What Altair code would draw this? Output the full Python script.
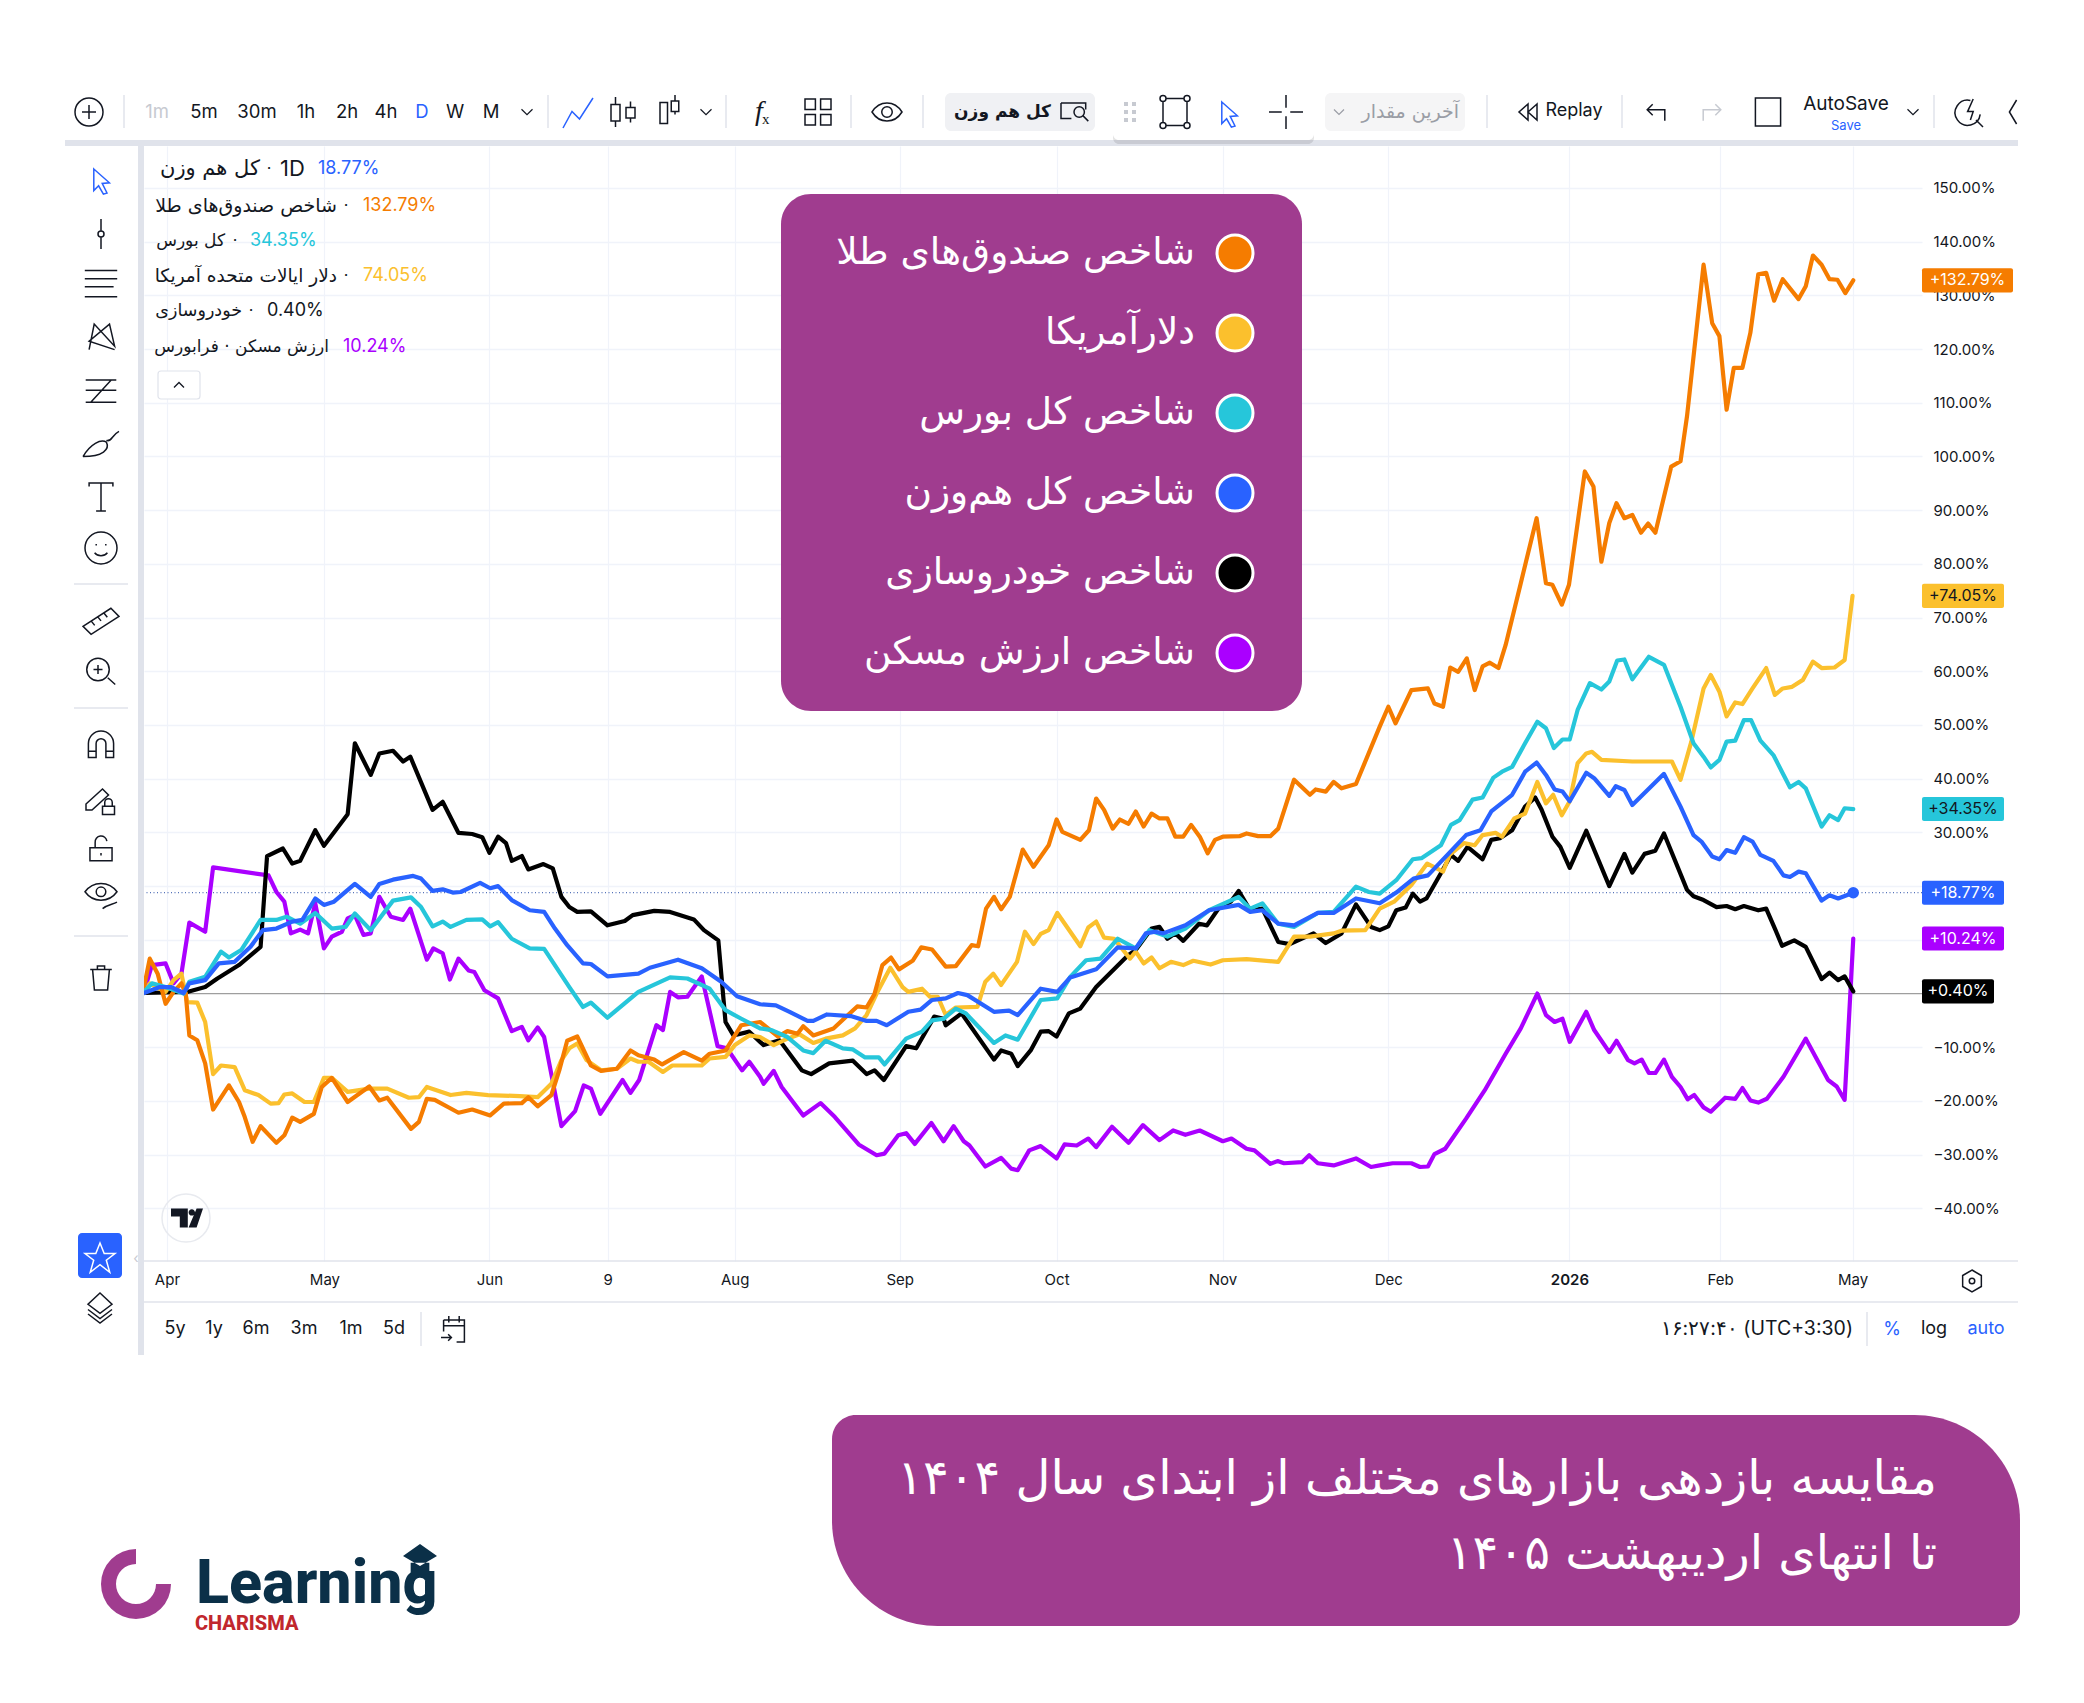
import altair as alt
import pandas as pd

# bar index on the time axis, % return since start
gold_bar = [0,0.8,1.9,3,4.1,5.2,5.8,6.3,7.4,8.5,9.6,11.8,13.2,14,15.1,16.2,18.4,19.5,20.6,21.7,23.6,24.7,26.1,28.3,31.3,32.7,33.8,37.1,38.2,39.3,40.4,43.7,45.6,48.1,50,52.5,53.4,54.7,56.6,57.7,58.8,60.2,62.1,63.5,65.7,67.6,68.7,70.9,72,75,77.5,78.6,80.8,83,85.6,88.1,89.4,90.8,91.6,93,95.8,99.1,100.4,101.5,102.6,103.8,104.9,106.8,108,109.5,111.4,112.8,115,115.9,117,118.1,119.1,120.3,122.1,123.6,125.7,126.8,127.6,130.1,131.3,132.3,133.4,134.6,135.6,136.8,137.8,138.9,140,141.1,142.2,143.3,144.4,145.5,146.7,147.8,148.8,149.9,152.2,153.2,154.8,156.5,157.6,159.8,162,162.8,164.2,165.3,166.4,168.4,171.7,172.9,173.9,176.1,178.4,179.3,180.5,181.5,182.6,183.8,184.9,186,187,188.2,189.2,191.3,193.5,194.8,195.7,197,198,200.2,201.4,202.5,203.6,204.6,205.7,206.8,208,209,210,212.2,213.5,214.4,216.7,217.9,218.9,219.9,220.9,222.1,223.2,224.3,225.4,226.5,227.7,229.9,230.9,231.9,233.1,234.2,235.3,236.4,237.5]
gold_pct = [1.2,6.5,3.7,-1.9,0.3,1.9,0,-7.8,-8.7,-13,-21.6,-17.1,-20.2,-23,-27.6,-24.7,-27.8,-26.4,-23.1,-23.9,-22.4,-17.4,-15.7,-20.2,-17.3,-19.9,-19.4,-25.2,-23.9,-19.6,-19.8,-22.2,-21.6,-22.7,-20.5,-20.4,-19.3,-21,-18.9,-14.3,-8.8,-8,-13.4,-14.4,-14,-10.6,-11.5,-12.3,-13.2,-10.9,-12.5,-11.2,-10.6,-5.9,-5.3,-8,-7,-7.5,-6.1,-7.8,-6.5,-2.4,-2.6,-0.1,5.3,6.7,4.5,6.1,8.6,8.2,5,5.1,9,8.8,15.8,18,15.7,18,26.8,23.6,27.6,32.4,30.1,28.6,30.4,36.3,34.2,30.7,32.4,31.6,33.9,31.1,33.5,32.6,32.6,29.2,29.2,31.4,29.2,26.1,28.6,29.2,29.3,29.8,29.3,29.3,30.7,39.8,37,38,37.6,39.4,38.2,39,49.7,53.4,50.3,56.5,56.8,54,53.4,60.7,59.9,62.4,56.5,60.9,61.6,60.6,64.9,76.4,88.5,76.4,76.1,72.4,76.1,97.2,94.4,80.4,87.6,91.3,88.5,89.1,85.8,87.5,85.8,98.1,99.1,107.5,135.7,124.8,122.4,108.7,116.5,116.5,123,133.9,134.2,129,133,129.3,131.7,137.4,135.7,133,132.9,130.4,132.79]

usd_bar = [0,0.8,3,4.1,5.2,6,7.4,8.5,9.6,10.7,12.6,14,15.9,17.6,18.7,19.5,20.6,22.3,23.6,25,26.1,28.3,31.3,33.8,36.8,38.2,39.3,42.6,44.8,47.8,52.2,54.7,56.6,58,59.1,60.2,61.5,63.5,65.7,67.6,68.7,70.1,72.1,73.4,77.5,78.6,80.8,82.1,84.1,85.6,87.5,89.4,91.1,93,94.7,97.1,98.8,100.4,101.8,103.7,105.4,106.2,108.1,109.2,110.3,111.4,112.8,115.8,116.9,118,119.1,121.3,122.4,123.6,124.6,125.7,126.9,130.1,131.2,132.3,133.4,134.8,137,137.8,138.9,140,141.1,142.7,144.4,145.8,148.2,149.9,153.2,157.6,159.8,162,165.3,166.4,169.7,171.7,173.7,176.1,178.3,180.5,181.4,183.4,184.9,186,187.8,188.7,190.4,191.9,193.6,194.8,195.8,197,198.1,199.2,200.4,201.2,202.5,206.8,212.3,213.5,215,216.7,217.7,218.9,219.9,221.1,222.1,223.5,225.4,226.6,227.7,229,230.5,231.9,233.1,234.9,236.3,237.4]
usd_pct = [0.1,1.9,0.3,2.5,3.7,-1.6,-1.7,-5.3,-15,-13.4,-13.7,-18,-18.9,-20.5,-20.4,-18.8,-18.6,-20.2,-20.2,-15.7,-15.7,-18.3,-17.7,-17.7,-19.4,-19.3,-17.4,-18.9,-18.5,-18.9,-19.1,-19.3,-16.8,-12.4,-10.2,-9.3,-12.4,-14.3,-14,-12.1,-12.7,-12.7,-14.6,-13.4,-13.4,-12.1,-11.8,-9.6,-7.8,-8.1,-9.6,-8.4,-7.6,-9.2,-8.4,-7.8,-6.5,-4,0,4.8,1.2,0.3,0.9,-0.6,-0.6,-4,-2.6,-2.5,2.2,3.7,1.6,5.9,11.5,9.2,11.1,11.8,15,8.8,12.3,13.4,10.4,10.2,6.5,7.8,5.6,6.7,4.7,5.9,5.3,6.1,5.4,6.2,6.4,5.9,10.6,10.6,11.2,11.7,11.8,15.8,17.1,20.2,24.2,22.7,25.8,28,27.6,29.5,29.9,29.2,32.6,33.5,39.4,35.4,37,33.2,35.8,42.9,44.7,45,43.5,43.2,43.2,39.8,46.9,56.8,59.3,56.2,51.6,54.2,53.9,56.8,60.6,55.6,56.8,57.1,58.4,61.8,60.6,60.7,62.1,74.05]

tedpix_bar = [0,1.1,3,5.5,6.3,8.5,10.7,11.8,13.5,16.2,18.4,19.8,21.7,23.8,26.1,28,29.3,31.5,34.6,37.1,38.5,40.1,41.5,42.6,44.8,47,48.1,49.2,51.1,53.6,55.6,59.1,61,62.1,64.4,68.7,73.1,75.5,78.6,80.8,83,85.6,87.2,89.4,91.6,93,94.7,97.1,98.5,100.2,102.1,102.9,105.9,108.1,109.5,111.1,112.8,114.2,118.1,119.7,121.4,124.6,126.9,128.7,130.9,132.9,135.3,137.8,139.7,142.2,144.7,148,152.1,153.7,155.4,157.6,159.8,163.1,165.3,168.4,170.2,171.7,174,176.3,177.5,180.2,181.6,182.8,184.6,186,187.5,188.7,190.1,191.9,193.6,194.8,195.9,197.1,198.1,199.2,200.9,202.5,203.6,204.7,205.7,206.8,209.1,211.2,213.5,215.3,216.7,217.7,218.9,219.9,221.1,222.3,223.3,224.6,226.4,228.7,229.9,230.9,233.1,234.2,235.4,236.3,237.5]
tedpix_pct = [0.3,1.9,1.2,0,2.2,3.1,7.8,6.7,8.1,13.7,13.7,14.3,13,15,12.1,12.4,14.9,11.8,17.3,17.9,16.1,12.5,13.4,12.4,13.7,13.8,12.5,13.3,10.2,8.4,8.3,1.2,-2.5,-1.7,-4.5,0.3,3,2.8,0.9,-3.1,-4.7,-6.5,-6.8,-8.1,-10.6,-11.1,-8.8,-10.2,-10.4,-11.9,-11.9,-13.2,-8.4,-7.1,-5,-4.7,-2.8,-3.7,-9.2,-7.8,-8.6,-1.2,-0.9,3.1,6.2,6.5,10.2,8.4,11.8,10.6,12.1,15.5,18,15.8,16.8,13,12.4,15,15.2,19.9,18.9,18.6,21.1,25,25.2,27.6,31.4,32.3,36.1,36.5,40.2,41.3,42.2,46.6,50.6,49.4,45.7,47.3,47.3,52.8,57.8,56.6,58.1,62,62.2,58.5,62.7,61.2,53.4,46.6,44.1,42.1,43.5,46.9,47.1,50.9,50.9,47.1,44.4,38.4,39.4,38.2,31.1,33.2,32.3,34.5,34.35]

equal_bar = [0,2.2,3.8,5.5,6.3,8.5,10.4,12.6,14.8,16.5,18.4,20.6,22,23.8,25,26.4,29.3,31.5,32.7,34.6,37.4,38.5,40.1,41.5,42.9,44,46.7,48.1,49.2,51.1,53.6,55.6,57.1,58.8,61,62.1,64.4,68.7,70.3,74.2,77.5,80.2,82.4,85.6,87.8,89.7,92.2,93,94.9,98.2,100.4,101.8,103.2,106.2,107.9,109.5,111.4,113.1,114.4,118.1,120.2,121.4,124.6,126.9,128.7,132.3,135.3,137.8,139.2,140.5,141.6,144.7,148,152.1,153.7,155.4,157.6,159.8,163.1,165.3,168.4,171.7,174,176.4,178.4,181.3,183.7,185.7,187.2,190.1,191.9,193.5,194.8,196,197.1,198.1,200.4,201.5,203.6,204.5,205.7,206.8,211.2,213.5,215.3,216.4,217.9,218.9,219.9,221.1,222.3,223.5,224.6,226.4,227.8,228.7,229.9,230.9,233.1,234.2,235.4,237.5]
equal_pct = [0.1,1.2,1.2,0.1,1.9,2.5,5.6,5.9,8.7,11.8,12.1,13.4,13.7,17.7,16.5,17.1,20.4,18,20.4,21.2,21.9,21.4,19.1,19.4,18.8,18.9,20.6,19.6,20,17.4,15.5,15.2,12.1,9,5.6,5.5,3.2,3.7,4.8,6.3,4.7,2.2,-0.5,-2,-2.2,-3.4,-5.1,-5.1,-3.9,-4.2,-5.1,-5.1,-5.9,-3.4,-3,-1.2,-0.9,0.1,-0.3,-3.4,-3.2,-4,0.9,0.3,3,4.5,8.6,8.4,11.2,11.5,11.2,12.7,15.5,16.5,15.2,15.5,13,12.7,15,15,17.7,16.8,18.8,21.4,22,26.1,29.5,30.4,33.9,37,41.3,43,40.7,38,37.6,35.8,41.1,40.1,36.8,38.6,37.9,35.1,40.9,34.8,29.5,28.3,25.5,25,26.7,26.2,29.1,28.3,25.8,24.7,22,21.7,22.7,22.4,17.3,18.3,17.7,18.77]

auto_bar = [0,6,8.5,10.2,13.2,16.2,17.1,19.3,20.6,21.7,23.8,25,28.3,29.3,31.5,32.7,34.6,36,37,40.1,41.5,43.7,45.6,47,48,49.2,50.3,51.1,52.5,53.4,55.5,56.8,58,59.1,60.2,62.1,64.4,66.8,67.9,70.9,73.1,76.4,77.8,79.8,80.8,81.9,84.1,85.6,86.1,88.3,91.4,92.7,95.2,98.5,100.4,101.5,102.8,105.9,107.3,109.8,111.1,111.4,113.6,118.1,119.1,120.5,121.4,123.2,124.6,125.7,126.8,128.5,130.1,132.3,136.7,137.8,140,141.1,142.2,143.3,144.4,146.6,147.7,149.3,151,152.1,153.7,155.4,157.6,159.2,162.5,164.2,166.4,168.4,170.5,171.7,172.9,174,175.3,176.3,177.3,178.2,180.2,181.6,182.6,183.9,186,187.2,188.4,190.1,191.9,193.3,194.2,195.7,196.8,198.1,200.4,203.6,205.7,206.8,208.5,210,211.2,214.4,215.3,216.7,218.5,219.9,221.1,222.3,224.3,225.4,226.7,227.6,229.3,230.9,233.1,234.2,235.4,236.3,237.5]
auto_pct = [0.1,0.3,1.2,2.8,5.3,8.7,25.6,27,24.2,24.7,30.4,27.5,33.4,46.6,40.7,44.7,45.2,43.2,44.1,34.2,35.7,29.9,29.7,29.1,26.2,29.2,28,24.7,25.6,23.1,24.1,23.3,18,16.1,15.2,15.3,12.7,13.5,14.6,15.4,15.2,13.8,11.8,9.9,-5.3,-7.8,-7.1,-9,-9.6,-8.7,-14.3,-15,-13,-12.5,-15,-14.3,-16.1,-9.8,-10.2,-4.3,-4.7,-5.9,-3.7,-12.3,-10.6,-11.2,-13.5,-10.6,-7.1,-7,-8,-3.7,-2.8,1.2,7.1,8.1,12.1,12.4,10.2,11.2,9.8,13,12.7,15.8,17.1,19.1,15.5,15.8,9.6,9.2,11.2,9.4,11.2,16.6,12.4,11.8,12.5,15.5,16,18.6,17.1,17.7,22.4,25.8,24.7,27.3,25,28.6,28.9,30.4,34.8,36.5,34.2,29.2,27.3,23.4,30.3,20,26,22.5,26,26.6,29.8,19.3,18.1,17.4,16.1,16.3,15.7,16.3,15.5,15.8,11.8,8.9,9.9,8.7,2.7,3.9,2.5,3.2,0.4]

housing_bar = [0,1.1,3,4.1,5.2,6.3,8.5,9.6,17.3,18.4,19.5,20.4,21.7,22.8,23.8,25,26.1,27.5,28.3,29.3,30.5,31.5,32.7,34.3,36,37,39.3,40.2,41.5,42.5,43.7,45.1,45.9,47.3,49.2,51.1,52.5,53.4,54.7,55.6,58,59.9,61.1,62.1,63.4,66.5,67.6,68.8,71.2,72.1,73.1,74.2,75.5,77.5,79.7,81,83.1,84.1,85.6,86.1,87.5,88.6,91.6,94,96,99.3,101.8,102.9,104.8,105.9,107.1,109.4,111.1,112.5,113.9,114.7,116.9,119.1,120.5,121.4,123,124.6,126.8,127.9,129.6,131.2,132.3,134.5,136.8,138.8,141.1,143,144.7,146.7,149.9,151.1,153.2,154.3,156.5,157.5,158.4,160.9,161.9,163.1,165.3,168.4,170.5,171.7,173.5,176.1,177.3,178.4,179.3,180.8,183.7,186.3,189.2,191.3,193.6,194.8,196,197.1,198.1,200.4,201.5,203.6,204.6,206.2,207.1,208.1,209.1,210,211.2,212.3,213.5,214.5,215.4,216.7,217.7,219.7,221.1,222.1,223.2,224.3,225.5,227.8,230.9,234,235.2,236.3,237.5]
housing_pct = [0.3,5.3,5.6,1.9,3.7,13.2,11.5,23.5,22,18.9,17.1,11.2,11.9,11.2,16.8,8.4,10.6,11.5,14,14.6,10.9,11.2,18,14.3,13.7,15.8,6.3,8.4,7.5,2.6,6.5,4.3,4,0.6,-0.9,-7,-6.2,-8.7,-6.3,-8.1,-24.7,-21.9,-17.1,-17.7,-22.4,-16.1,-18.5,-16.1,-5.9,-6.8,0.3,-0.7,-0.6,3.2,-9.8,-10.2,-14.3,-12.7,-15.5,-16.8,-14.4,-17.4,-22.7,-20.4,-23,-28.1,-30.1,-29.8,-26.4,-26,-28,-24.1,-27.5,-24.7,-27.5,-28.3,-32.2,-30.6,-32.6,-32.9,-29.2,-28.4,-30.7,-28.1,-28.3,-27,-28.6,-24.8,-27.8,-24.5,-27.3,-25.5,-26.3,-25.5,-27.5,-27,-28.9,-29.2,-31.7,-31.2,-31.6,-31.4,-30.1,-31.6,-32,-30.7,-32.3,-32,-31.6,-31.6,-32.3,-32.2,-29.9,-28.9,-23.3,-18,-11.2,-6.5,0,-4,-5.3,-4.7,-9,-3.4,-6.8,-10.9,-8.8,-12.4,-13,-12.3,-14.8,-14.8,-12.3,-15.5,-17.4,-19.7,-18.9,-21.2,-22,-19.4,-19.6,-17.6,-19.9,-20.3,-19.6,-15.5,-8.4,-16.1,-17.3,-19.8,10.24]

# time and price axis
time_ticks = [3.19,25.07,47.99,64.44,82.08,105,126.8,149.86,172.9,198.06,219,237.4]
time_labels = ["Apr","May","Jun","9","Aug","Sep","Oct","Nov","Dec","2026","Feb","May"]
price_ticks = [-40,-30,-20,-10,10,20,30,40,50,60,70,80,90,100,110,120,130,140,150]

# colours
GOLD, USD, TEDPIX, EQUAL, AUTO, HOUSING = "#f57c00", "#fbc02d", "#26c6da", "#2962ff", "#000000", "#aa00ff"
PURPLE = "#a03c8f"
INK = "#131722"
STRIP = "#e0e3eb"

series = [
    ("housing", housing_bar, housing_pct, HOUSING),
    ("auto", auto_bar, auto_pct, AUTO),
    ("usd", usd_bar, usd_pct, USD),
    ("gold", gold_bar, gold_pct, GOLD),
    ("tedpix", tedpix_bar, tedpix_pct, TEDPIX),
    ("equal", equal_bar, equal_pct, EQUAL),
]
last_values = [(132.79, GOLD, 2013, "#ffffff"), (74.05, USD, 2004, INK), (34.35, TEDPIX, 2004, INK),
               (18.77, EQUAL, 2004, "#ffffff"), (10.24, HOUSING, 2004, "#ffffff"), (0.40, AUTO, 1994, "#ffffff")]

legend_names = ["شاخص صندوق‌های طلا", "دلارآمریکا", "شاخص کل بورس", "شاخص کل هم‌وزن", "شاخص خودروسازی", "شاخص ارزش مسکن"]
legend_colors = [GOLD, USD, TEDPIX, EQUAL, AUTO, HOUSING]

# plot area position on the page
PX, PY, PW, PH = 144, 146, 1778, 1115
FA = "DejaVu Sans"
dummy = pd.DataFrame({"i": [0]})

x_scale = alt.Scale(domain=[0, 247.05], nice=False, zero=False)
y_scale = alt.Scale(domain=[-49.8, 157.8], nice=False, zero=False)


def label(px, py, txt, size=16, color=INK, align="left", font="Inter", weight=400, style="normal"):
    return alt.Chart(dummy).mark_text(text=txt, fontSize=size, color=color, align=align, baseline="middle",
                                      font=font, fontWeight=weight, fontStyle=style).encode(
        x=alt.value(px - PX), y=alt.value(py - PY))


def icon(px, py, d, path, color=INK, sw=1.5, filled=False):
    if filled:
        m = alt.Chart(dummy).mark_point(shape=path, size=d * d, filled=True, color=color, opacity=1, strokeWidth=0)
    else:
        m = alt.Chart(dummy).mark_point(shape=path, size=d * d, filled=False, color=color, opacity=1, strokeWidth=sw)
    return m.encode(x=alt.value(px - PX), y=alt.value(py - PY))


def box(x0, y0, x1, y1, color, **kw):
    return alt.Chart(dummy).mark_rect(color=color, **kw).encode(
        x=alt.value(x0 - PX), x2=alt.value(x1 - PX), y=alt.value(y0 - PY), y2=alt.value(y1 - PY))


def hline(x0, x1, y, color=STRIP, w=1.5):
    return alt.Chart(dummy).mark_rule(color=color, strokeWidth=w).encode(
        x=alt.value(x0 - PX), x2=alt.value(x1 - PX), y=alt.value(y - PY))


def vline(x, y0, y1, color=STRIP, w=1.5):
    return alt.Chart(dummy).mark_rule(color=color, strokeWidth=w).encode(
        x=alt.value(x - PX), y=alt.value(y0 - PY), y2=alt.value(y1 - PY))


# icon outlines, drawn in a -1..1 box
CIRCLE = "M-1 0A1 1 0 1 1 1 0A1 1 0 1 1 -1 0Z"
PLUS_CIRCLE = CIRCLE + "M-.5 0H.5M0 -.5V.5"
CHEV = "M-1 -.5L0 .5L1 -.5"
LINE_IC = "M-1 1L-.4 -.1L.1 .4L1 -1"
CANDLE = "M-.5 -1V-.5M-.5 .6V1M-.8 -.5H-.2V.6H-.8ZM.5 -.7V-.3M.5 .4V.7M.2 -.3H.8V.4H.2Z"
HOLLOW = "M-.6 -.5H-.1V.9H-.6ZM.4 -1V-.6M.4 .1V.3M.15 -.6H.65V.1H.15Z"
GRID4 = "M-1 -1H-.2V-.2H-1ZM.2 -1H1V-.2H.2ZM-1 .2H-.2V1H-1ZM.2 .2H1V1H.2Z"
EYE = "M-1 0C-.5 -.8 .5 -.8 1 0C.5 .8 -.5 .8 -1 0ZM-.35 0A.35 .35 0 1 1 .35 0A.35 .35 0 1 1 -.35 0Z"
ARROW = "M-.6 -1L.7 .15L.1 .2L.5 1L.2 1.1L-.2 .4L-.6 .8Z"
CROSS = "M0 -1V-.25M0 .25V1M-1 0H-.25M.25 0H1"
HANDLES = "M-.6 -.9H.6M-.6 .9H.6M-.8 -.7V.7M.8 -.7V.7M-1 -.9A.2 .2 0 1 1 -.6 -.9A.2 .2 0 1 1 -1 -.9ZM.6 -.9A.2 .2 0 1 1 1 -.9A.2 .2 0 1 1 .6 -.9ZM-1 .9A.2 .2 0 1 1 -.6 .9A.2 .2 0 1 1 -1 .9ZM.6 .9A.2 .2 0 1 1 1 .9A.2 .2 0 1 1 .6 .9Z"
REPLAY = "M-.1 -.8L-1 0L-.1 .8ZM.8 -.8L-.1 0L.8 .8Z"
UNDO = "M.8 .8V-.2H-.8M-.3 -.7L-.8 -.2L-.3 .3"
REDO = "M-.8 .8V-.2H.8M.3 -.7L.8 -.2L.3 .3"
SQUARE = "M-.9 -1H.9V1H-.9Z"
CLOCK = "M.1 -.9A.9 .9 0 1 0 .8 .1M.5 .5L1 1M.3 -1L-.1 -.1H.3L.1 .5"
BACK = "M.3 -1L-.3 0L.3 1"
LENS = "M-1 -.7H.9V-.2M-.2 .5H-1V-.7M0 0A.4 .4 0 1 1 .8 0A.4 .4 0 1 1 0 0ZM.7 .3L1.1 .7"
SLIDER = "M0 -1V-.22M0 .22V1M-.2 0A.2 .2 0 1 1 .2 0A.2 .2 0 1 1 -.2 0Z"
LINES = "M-.9 -.8H.9M-.9 -.35H.9M-.9 .1H.7M-.9 .65H.9"
NODES = "M-.7 .8L-.4 -.7L.8 .6L.5 -.7L-.7 .3L.8 .8"
FIB = "M-.9 -.7H.9M-.9 -.1H.9M-.9 .6H.9M-.6 .6L.6 -.7"
BRUSH = "M-1 .7C-.6 0 0 -.3 .3 -.1C.5 .3 .1 .7 -1 .7M.3 -.2C.6 -.1 .6 -.5 1 -.7"
SERIF_T = "M-.85 -.75V-1H.85V-.75M0 -1V1M-.35 1H.35"
SMILE = CIRCLE + "M-.3 -.25V-.15M.3 -.25V-.15M-.4 .3C-.2 .55 .2 .55 .4 .3"
RULER = "M-1 .35L.55 -.65L1 -.2L-.55 .8ZM-.55 .05L-.35 .3M-.2 -.2L0 .05M.15 -.4L.35 -.15"
ZOOM_IC = "M-.95 -.1A.75 .75 0 1 1 .55 -.1A.75 .75 0 1 1 -.95 -.1ZM-.5 -.1H.1M-.2 -.4V.2M.45 .45L.95 .9"
MAGNET = "M-.9 .9V-.1A.9 .9 0 0 1 .9 -.1V.9H.35V-.1A.35 .35 0 0 0 -.35 -.1V.9ZM-.9 .45H-.35M.35 .45H.9"
PENCIL = "M-1 .4L.1 -.6L.5 -.2L-.6 .8L-1 .8ZM.1 .55H.9V1.1H.1ZM.25 .55V.3A.25 .25 0 0 1 .75 .3V.55"
LOCK = "M-.85 -.1H.85V.9H-.85ZM-.45 -.1V-.5A.45 .45 0 0 1 .45 -.6M0 .3V.5"
EYE2 = "M-1 -.2C-.5 -.9 .5 -.9 1 -.2C.5 .5 -.5 .5 -1 -.2ZM-.3 -.2A.3 .3 0 1 1 .3 -.2A.3 .3 0 1 1 -.3 -.2ZM.1 .85C.4 .6 .7 .6 1 .45"
TRASH = "M-.9 -.7H.9M-.3 -.7V-1H.3V-.7M-.7 -.7L-.55 1H.55L.7 -.7"
STAR = "M0 -1L.28 -.3L1 -.3L.42 .15L.65 .95L0 .45L-.65 .95L-.42 .15L-1 -.3L-.28 -.3Z"
LAYERS = "M0 -1L.8 -.25L0 .35L-.8 -.25ZM-.8 .1L0 .7L.8 .1M-.8 .4L0 1L.8 .4"
CALENDAR = "M-.8 -.7H.8V1H.2M-.8 -.7V.2M-.8 -.25H.8M-.4 -1V-.5M.4 -1V-.5M-1 .65H-.2M-.45 .4L-.2 .65L-.45 .9"
HEX = "M0 -1L.85 -.5V.5L0 1L-.85 .5V-.5ZM-.25 0A.25 .25 0 1 1 .25 0A.25 .25 0 1 1 -.25 0Z"
TV = "M-1 -.6H.05V.6H-.45V-.1H-1ZM.6 -.6H1L.6 .6H.1ZM.1 -.35A.2 .2 0 1 1 .5 -.35A.2 .2 0 1 1 .1 -.35Z"
GRIP = "M-.6 -1H-.2V-.6H-.6ZM.2 -1H.6V-.6H.2ZM-.6 -.2H-.2V.2H-.6ZM.2 -.2H.6V.2H.2ZM-.6 .6H-.2V1H-.6ZM.2 .6H.6V1H.2Z"
GRAD = "M0 -1L1 -.3L0 .3L-1 -.3ZM-.55 .1V.8H.55V.1"

tick_expr = "[" + ",".join(f"'{t}'" for t in time_labels) + "][indexof([" + ",".join(str(v) for v in time_ticks) + "],datum.value)]"
x_axis = alt.Axis(
    values=time_ticks, labelExpr=tick_expr, grid=True, gridColor="#f0f3fa", gridWidth=1.2, ticks=False,
    domain=False, labelFont="Inter", labelFontSize=15, labelColor=INK, labelPadding=11, labelOverlap=False,
    labelFlush=False, labelFontWeight={"condition": {"test": "datum.value==198.06", "value": 600}, "value": 400})
y_axis = alt.Axis(
    orient="right", values=price_ticks, labelExpr="format(datum.value,'.2f')+'%'", grid=True, gridColor="#f0f3fa",
    gridWidth=1.5, ticks=False, domain=False, labelFont="Inter", labelFontSize=15, labelColor=INK, labelPadding=11,
    labelOverlap=False)
x_enc = alt.X("bar:Q", scale=x_scale, title=None, axis=x_axis)
y_enc = alt.Y("pct:Q", scale=y_scale, title=None, axis=y_axis)

# zero line carries the axes and grid
layers = [alt.Chart(pd.DataFrame({"bar": [0, 247.05], "pct": [0, 0]})).mark_line(color="#9e9e9e", strokeWidth=1.2).encode(x=x_enc, y=y_enc)]

# last price line of the main series
layers.append(alt.Chart(pd.DataFrame({"pct": [18.77]})).mark_rule(color="#2a4fa8", strokeWidth=1, strokeDash=[1, 2.5]).encode(y=y_enc))

for name, bars, pcts, color in series:
    frame = pd.DataFrame({"bar": bars, "pct": pcts, "idx": range(len(bars))})
    layers.append(alt.Chart(frame).mark_line(color=color, strokeWidth=4.2, strokeJoin="round", strokeCap="round").encode(
        x=x_enc, y=y_enc, order="idx:Q"))

layers.append(alt.Chart(pd.DataFrame({"bar": [237.5], "pct": [18.77]})).mark_circle(color=EQUAL, size=130, opacity=1).encode(x=x_enc, y=y_enc))

# value badges on the price axis
for val, col, right, txt_col in last_values:
    frame = pd.DataFrame({"pct": [val], "top": [val + 2.25], "low": [val - 2.25]})
    layers.append(alt.Chart(frame).mark_rect(color=col, cornerRadius=2).encode(
        x=alt.value(PW), x2=alt.value(right - PX), y=alt.Y("top:Q", scale=y_scale, title=None, axis=y_axis), y2="low:Q"))
    layers.append(alt.Chart(frame).mark_text(text=f"+{val:.2f}%", color=txt_col, fontSize=16, font="Inter", align="center",
                                             baseline="middle").encode(x=alt.value((PW + right - PX) / 2), y=y_enc))

# frame strips
layers += [
    box(65, 140, 2018, 146, STRIP), box(138, 146, 144, 1355, STRIP),
    hline(144, 2018, 1261), hline(144, 2018, 1302),
]

# top toolbar
for txt, cx, col in [("1m", 157, "#c7cad1"), ("5m", 204, INK), ("30m", 257, INK), ("1h", 306, INK), ("2h", 347, INK),
                     ("4h", 386, INK), ("D", 422, EQUAL), ("W", 455, INK), ("M", 491, INK)]:
    layers.append(label(cx, 112, txt, size=18.5, color=col, align="center"))
for sx in [124, 548, 726, 851, 923, 1487, 1622, 1934]:
    layers.append(vline(sx, 95, 128))
layers += [
    icon(89, 112, 28, PLUS_CIRCLE), icon(527, 112, 11, CHEV, sw=1.2), icon(578, 113, 30, LINE_IC, color=EQUAL),
    icon(623, 112, 30, CANDLE), icon(669, 110, 30, HOLLOW), icon(706, 112, 11, CHEV, sw=1.2),
    label(755, 112, "f", size=28, font="Liberation Serif", style="italic"), label(762, 119, "x", size=15, font="Liberation Serif"),
    icon(818, 112, 26, GRID4), icon(887, 112, 30, EYE),
    box(945, 93, 1095, 131, "#f0f1f4", cornerRadius=6), label(1051, 112, "کل هم وزن", size=17, align="right", font=FA, weight=700),
    icon(1074, 112, 26, LENS),
    box(1113, 82, 1314, 144, "#000000", cornerRadius=6, opacity=0.1), box(1113, 78, 1314, 140, "#ffffff", cornerRadius=6),
    icon(1130, 112, 20, GRIP, color="#c7cad1", filled=True), icon(1175, 112, 30, HANDLES), icon(1229, 114, 24, ARROW, color=EQUAL),
    icon(1286, 112, 34, CROSS),
    box(1325, 93, 1465, 131, "#f5f5f6", cornerRadius=6), label(1459, 112, "آخرین مقدار", size=19, color="#9a9da5", align="right", font=FA),
    icon(1339, 112, 10, CHEV, color="#9a9da5", sw=1.2),
    icon(1529, 112, 20, REPLAY), label(1574, 111, "Replay", size=18, align="center"),
    icon(1656, 112, 22, UNDO), icon(1712, 112, 22, REDO, color="#c7cad1"), icon(1768, 112, 28, SQUARE),
    label(1846, 104, "AutoSave", size=19, align="center"), label(1846, 126, "Save", size=13, color=EQUAL, align="center"),
    icon(1913, 112, 11, CHEV, sw=1.2), icon(1969, 113, 28, CLOCK), icon(2013, 112, 24, BACK),
]

# left toolbar
for cy, shp, d, col in [(181, ARROW, 24, EQUAL), (234, SLIDER, 30, INK), (285, LINES, 36, INK), (336, NODES, 34, INK),
                        (392, FIB, 34, INK), (444, BRUSH, 36, INK), (497, SERIF_T, 28, INK), (548, SMILE, 32, INK), (620, RULER, 36, INK),
                        (671, ZOOM_IC, 30, INK), (745, MAGNET, 28, INK), (798, PENCIL, 30, INK), (849, LOCK, 26, INK),
                        (895, EYE2, 32, INK), (978, TRASH, 24, INK)]:
    layers.append(icon(101, cy, d, shp, color=col))
for sy in [584, 708, 936]:
    layers.append(hline(74, 128, sy))
layers += [
    box(78, 1233, 122, 1278, EQUAL, cornerRadius=4), icon(100, 1258, 30, STAR, color="#ffffff"),
    icon(100, 1308, 30, LAYERS), icon(186, 1218, 48, CIRCLE, color="#e8eaef", sw=1.5), icon(187, 1218, 32, TV, filled=True),
    label(136, 1259, "‹", size=14, color="#c7cad1", align="center"),
]

# plot header, series names and last values
rows = [
    (169, 260, "کل هم وزن", 21, 269, 318, "18.77%", EQUAL),
    (206, 337, "شاخص صندوق‌های طلا", 19, 346, 363, "132.79%", GOLD),
    (241, 225, "کل بورس", 17, 235, 250, "34.35%", TEDPIX),
    (276, 337, "دلار ایالات متحده آمریکا", 18.5, 346, 363, "74.05%", USD),
    (311, 242, "خودروسازی", 17.5, 251, 267, "0.40%", INK),
    (347, 329, "ارزش مسکن · فرابورس", 17, 0, 343, "10.24%", HOUSING),
]
for cy, name_r, nm, nm_size, dot_x, val_x, val, col in rows:
    layers.append(label(name_r, cy, nm, size=nm_size, align="right", font=FA))
    if dot_x:
        layers.append(label(dot_x, cy, "·", size=16, align="center"))
    layers.append(label(val_x, cy, val, size=18, color=col))
layers.append(label(280, 169, "1D", size=22))
layers += [box(158, 371, 200, 399, "#ffffff", stroke="#e0e3eb", strokeWidth=1.2, cornerRadius=3), icon(179, 385, 10, "M-1 .5L0 -.5L1 .5", sw=1.3)]

# bottom range row
for txt, cx in [("5y", 175), ("1y", 214), ("6m", 256), ("3m", 304), ("1m", 351), ("5d", 394)]:
    layers.append(label(cx, 1329, txt, size=18, align="center"))
layers += [
    vline(421, 1312, 1346), icon(454, 1329, 26, CALENDAR), vline(1867, 1312, 1346),
    label(1853, 1329, "۱۶:۲۷:۴۰ (UTC+3:30)", size=19.5, align="right"),
    label(1892, 1330, "%", size=18, color=EQUAL, align="center"), label(1934, 1329, "log", size=18, align="center"),
    label(1986, 1329, "auto", size=18, color=EQUAL, align="center"), icon(1972, 1281, 22, HEX),
]

# legend card
layers.append(box(781, 194, 1302, 711, PURPLE, cornerRadius=30))
for i, (nm, col) in enumerate(zip(legend_names, legend_colors)):
    cy = 253 + 80 * i
    layers.append(label(1195, cy, nm, size=37.5, color="#ffffff", align="right", font=FA))
    layers.append(alt.Chart(dummy).mark_point(shape="circle", filled=True, size=1296, color=col, opacity=1, stroke="#ffffff", strokeWidth=3).encode(
        x=alt.value(1235 - PX), y=alt.value(cy - PY)))

# title banner
layers += [
    box(832, 1415, 2020, 1626, PURPLE, cornerRadiusTopLeft=24, cornerRadiusTopRight=110,
        cornerRadiusBottomLeft=110, cornerRadiusBottomRight=14),
    label(1937, 1480, "مقایسه بازدهی بازارهای مختلف از ابتدای سال ۱۴۰۴", size=48, color="#ffffff", align="right", font=FA),
    label(1937, 1555, "تا انتهای اردیبهشت ۱۴۰۵", size=48, color="#ffffff", align="right", font=FA),
]

# logo
layers += [
    alt.Chart(dummy).mark_arc(color=PURPLE, radius=35, radius2=20, theta=1.5708, theta2=6.2832).encode(
        x=alt.value(136 - PX), y=alt.value(1584 - PY)),
    label(196, 1585, "Learning", size=61, color="#0b3048", font="Roboto", weight=800),
    icon(420, 1561, 34, GRAD, color="#0b3048", filled=True),
    label(195, 1624, "CHARISMA", size=20, color="#c1272d", font="Roboto", weight=800),
]

chart = alt.layer(*layers).properties(
    width=PW, height=PH,
    padding={"left": PX - 8, "top": PY - 8, "right": 2068 - PW - PX + 8, "bottom": 1687 - PH - PY + 8},
    autosize=alt.AutoSizeParams(type="none"),
    background="#ffffff",
).configure_view(stroke=None)

chart.save("out.html", embed_options={"renderer": "svg", "actions": False})
